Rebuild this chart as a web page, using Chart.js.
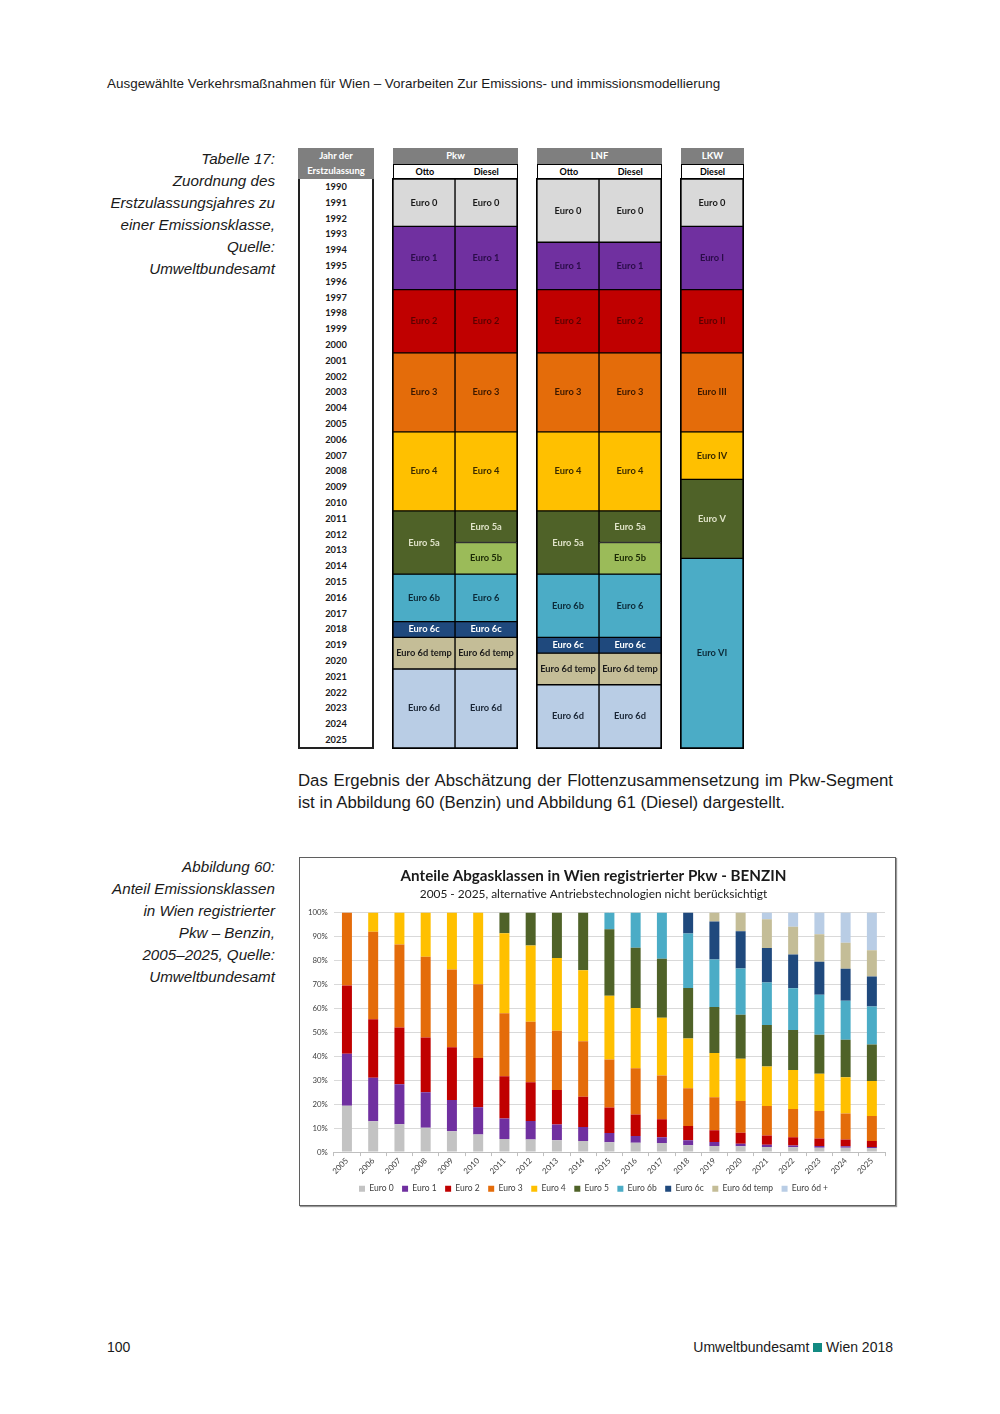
<!DOCTYPE html>
<html>
<head>
<meta charset="utf-8">
<script src="https://cdn.jsdelivr.net/npm/chart.js@4.4.1/dist/chart.umd.min.js"></script>
<style>
  body { margin: 0; background: #fff; font-family: "Liberation Sans", Arial, sans-serif; color: #1a1a1a; }
  #page { position: relative; width: 1000px; height: 1414px; overflow: hidden; }
  .abs { position: absolute; }
  .caption { font-style: italic; font-size: 15.2px; line-height: 22px; text-align: right; width: 200px; left: 75px; }
  .th { background: #7f7f7f; color: #fff; font: bold 9.5px Lato, sans-serif; text-align: center; }
  .sub { background: #fff; color: #000; font: bold 9px Lato, sans-serif; display: flex; border: 1px solid #000; border-bottom: none; box-sizing: border-box; }
  .sub div { flex: 1; text-align: center; line-height: 14px; }
  .grp { border: 1px solid #000; box-sizing: content-box; }
  #yearcol { left: 298px; top: 179px; width: 72px; height: 568px; border: 2px solid #222; border-top: none; font: bold 9.3px Lato, sans-serif; text-align: center; }
  #yearcol div { height: 15.8px; line-height: 15.8px; }
  .para { left: 298px; width: 595px; font-size: 16.8px; line-height: 22px; white-space: nowrap; }
</style>
</head>
<body>
<div id="page">
  <div class="abs" style="left:107px; top:76px; font-size:13.45px;">Ausgewählte Verkehrsmaßnahmen für Wien – Vorarbeiten Zur Emissions- und immissionsmodellierung</div>

  <div class="abs caption" style="top:148px;">Tabelle 17:<br>Zuordnung des<br>Erstzulassungsjahres zu<br>einer Emissionsklasse,<br>Quelle:<br>Umweltbundesamt</div>

  <!-- table headers -->
  <div class="abs th" style="left:298px; top:148px; width:76px; height:31px; line-height:15px;">Jahr der<br>Erstzulassung</div>
  <div id="yearcol" class="abs"></div>

  <div class="abs th" style="left:393px; top:148px; width:125px; height:16px; line-height:16px;">Pkw</div>
  <div class="abs sub" style="left:393px; top:164px; width:125px; height:15px;"><div>Otto</div><div>Diesel</div></div>
  <div class="abs grp" style="left:392px; top:178px; width:124px; height:569px;"><canvas id="pkw"></canvas></div>

  <div class="abs th" style="left:537px; top:148px; width:125px; height:16px; line-height:16px;">LNF</div>
  <div class="abs sub" style="left:537px; top:164px; width:125px; height:15px;"><div>Otto</div><div>Diesel</div></div>
  <div class="abs grp" style="left:536px; top:178px; width:124px; height:569px;"><canvas id="lnf"></canvas></div>

  <div class="abs th" style="left:681px; top:148px; width:63px; height:16px; line-height:16px;">LKW</div>
  <div class="abs sub" style="left:681px; top:164px; width:63px; height:15px;"><div>Diesel</div></div>
  <div class="abs grp" style="left:680px; top:178px; width:62px; height:569px;"><canvas id="lkw"></canvas></div>

  <div class="abs para" style="top:770px; text-align:justify; text-align-last:justify;">Das Ergebnis der Abschätzung der Flottenzusammensetzung im Pkw-Segment</div>
  <div class="abs para" style="top:792px;">ist in Abbildung 60 (Benzin) und Abbildung 61 (Diesel) dargestellt.</div>

  <div class="abs caption" style="top:856px;">Abbildung 60:<br>Anteil Emissionsklassen<br>in Wien registrierter<br>Pkw – Benzin,<br>2005–2025, Quelle:<br>Umweltbundesamt</div>

  <div class="abs" style="left:299px; top:857px; width:595px; height:347px; border:1px solid #5f5f5f; box-shadow:1px 1px 1px #999;">
    <canvas id="main"></canvas>
  </div>

  <div class="abs" style="left:107px; top:1339px; font-size:14px;">100</div>
  <div class="abs" style="right:107px; top:1339px; font-size:14px;">Umweltbundesamt <span style="display:inline-block; width:9px; height:9px; background:#138a82;"></span> Wien 2018</div>
</div>

<script>
// ---- Tabelle 17: Erstzulassungsjahr -> Emissionsklasse ----
const firstYear = 1990;
const lastYear = 2025;

const pkwOtto   = [['Euro 0',1990,1992],['Euro 1',1993,1996],['Euro 2',1997,2000],['Euro 3',2001,2005],['Euro 4',2006,2010],['Euro 5a',2011,2014],['Euro 6b',2015,2017],['Euro 6c',2018,2018],['Euro 6d temp',2019,2020],['Euro 6d',2021,2025]];
const pkwDiesel = [['Euro 0',1990,1992],['Euro 1',1993,1996],['Euro 2',1997,2000],['Euro 3',2001,2005],['Euro 4',2006,2010],['Euro 5a',2011,2012],['Euro 5b',2013,2014],['Euro 6',2015,2017],['Euro 6c',2018,2018],['Euro 6d temp',2019,2020],['Euro 6d',2021,2025]];
const lnfOtto   = [['Euro 0',1990,1993],['Euro 1',1994,1996],['Euro 2',1997,2000],['Euro 3',2001,2005],['Euro 4',2006,2010],['Euro 5a',2011,2014],['Euro 6b',2015,2018],['Euro 6c',2019,2019],['Euro 6d temp',2020,2021],['Euro 6d',2022,2025]];
const lnfDiesel = [['Euro 0',1990,1993],['Euro 1',1994,1996],['Euro 2',1997,2000],['Euro 3',2001,2005],['Euro 4',2006,2010],['Euro 5a',2011,2012],['Euro 5b',2013,2014],['Euro 6',2015,2018],['Euro 6c',2019,2019],['Euro 6d temp',2020,2021],['Euro 6d',2022,2025]];
const lkwDiesel = [['Euro 0',1990,1992],['Euro I',1993,1996],['Euro II',1997,2000],['Euro III',2001,2005],['Euro IV',2006,2008],['Euro V',2009,2013],['Euro VI',2014,2025]];

// fill / text colour per class
const cellColors = {
  'Euro 0': ['#d9d9d9', '#1a1a1a'],
  'Euro 1': ['#7030a0', '#2a0c48'], 'Euro I': ['#7030a0', '#2a0c48'],
  'Euro 2': ['#c00000', '#5c0000'], 'Euro II': ['#c00000', '#5c0000'],
  'Euro 3': ['#e46c0a', '#3a1800'], 'Euro III': ['#e46c0a', '#3a1800'],
  'Euro 4': ['#ffc000', '#3a2a00'], 'Euro IV': ['#ffc000', '#3a2a00'],
  'Euro 5a': ['#4f6228', '#dfe2c8'], 'Euro V': ['#4f6228', '#dfe2c8'],
  'Euro 5b': ['#9bbb59', '#1c2a05'],
  'Euro 6b': ['#4bacc6', '#0c2a38'], 'Euro 6': ['#4bacc6', '#0c2a38'], 'Euro VI': ['#4bacc6', '#0c2a38'],
  'Euro 6c': ['#1f497d', '#ffffff'],
  'Euro 6d temp': ['#c4bd97', '#1a1a1a'],
  'Euro 6d': ['#b9cde5', '#1a2636']
};

const yearCol = document.getElementById('yearcol');
for (let y = firstYear; y <= lastYear; y++) {
  const d = document.createElement('div');
  d.textContent = y;
  yearCol.appendChild(d);
}

// draw the class name in the middle of each block
const cellLabels = {
  id: 'cellLabels',
  afterDatasetsDraw(chart) {
    const ctx = chart.ctx;
    ctx.save();
    ctx.font = 'bold 9.3px Lato, sans-serif';
    ctx.textAlign = 'center';
    ctx.textBaseline = 'middle';
    chart.data.datasets.forEach((ds, i) => {
      chart.getDatasetMeta(i).data.forEach((el, j) => {
        if (ds.data[j] == null) return;
        ctx.fillStyle = cellColors[ds.label][1];
        ctx.fillText(ds.label, el.x, (el.y + el.base) / 2);
      });
    });
    ctx.restore();
  }
};

function makeTable(id, columns) {
  const datasets = [];
  columns.forEach((blocks, c) => {
    blocks.forEach(([cls, from, to]) => {
      datasets.push({
        label: cls,
        data: columns.map((_, k) => k === c ? [from - 0.5, to + 0.5] : null),
        backgroundColor: cellColors[cls][0],
        borderColor: '#000',
        borderWidth: 1,
        borderSkipped: false,
        grouped: false,
        categoryPercentage: 1,
        barPercentage: 1
      });
    });
  });
  new Chart(document.getElementById(id), {
    type: 'bar',
    data: { labels: columns.map((_, k) => 'c' + k), datasets },
    options: {
      responsive: true,
      maintainAspectRatio: false,
      animation: false,
      layout: { padding: 0 },
      scales: {
        x: { display: false },
        y: { display: false, reverse: true, min: firstYear - 0.5, max: lastYear + 0.5 }
      },
      plugins: { legend: { display: false }, tooltip: { enabled: false } }
    },
    plugins: [cellLabels]
  });
}

makeTable('pkw', [pkwOtto, pkwDiesel]);
makeTable('lnf', [lnfOtto, lnfDiesel]);
makeTable('lkw', [lkwDiesel]);

// ---- Abbildung 60: Anteile Abgasklassen, Pkw Benzin ----
const years = ['2005','2006','2007','2008','2009','2010','2011','2012','2013','2014','2015','2016','2017','2018','2019','2020','2021','2022','2023','2024','2025'];

const euro0   = [19.3, 12.9, 11.6, 10.2, 8.7, 7.3, 5.5, 5.3, 4.9, 4.6, 4.1, 3.9, 3.8, 2.9, 2.5, 2.4, 2.1, 2.0, 1.8, 1.8, 1.7];
const euro1   = [21.7, 18.1, 16.7, 14.8, 13.0, 11.4, 8.5, 7.7, 6.6, 5.9, 3.9, 2.8, 2.4, 2.0, 1.7, 1.1, 1.0, 0.8, 0.7, 0.6, 0.4];
const euro2   = [28.5, 24.5, 23.7, 22.8, 22.1, 20.6, 17.7, 16.2, 14.4, 12.6, 10.6, 9.0, 7.5, 6.0, 4.9, 4.6, 3.8, 3.4, 3.2, 2.9, 2.5];
const euro3   = [30.5, 36.5, 34.7, 33.7, 32.4, 30.8, 26.3, 25.2, 24.7, 23.2, 20.1, 19.3, 18.3, 15.7, 13.8, 13.2, 12.3, 11.8, 11.4, 10.8, 10.5];
const euro4   = [0, 8.0, 13.3, 18.5, 23.8, 29.9, 33.3, 31.8, 30.4, 29.6, 26.6, 25.1, 24.1, 20.8, 18.5, 17.7, 16.5, 16.3, 15.6, 15.1, 14.6];
const euro5   = [0, 0, 0, 0, 0, 0, 8.7, 13.8, 19.0, 24.1, 27.7, 25.2, 24.6, 21.1, 19.2, 18.3, 17.3, 16.7, 16.3, 15.7, 15.2];
const euro6b  = [0, 0, 0, 0, 0, 0, 0, 0, 0, 0, 7.0, 14.7, 19.3, 22.7, 19.8, 19.3, 17.8, 17.4, 16.7, 16.3, 15.9];
const euro6c  = [0, 0, 0, 0, 0, 0, 0, 0, 0, 0, 0, 0, 0, 8.8, 15.8, 15.6, 14.4, 14.1, 13.7, 13.3, 12.5];
const euro6dT = [0, 0, 0, 0, 0, 0, 0, 0, 0, 0, 0, 0, 0, 0, 3.8, 7.8, 12.0, 11.6, 11.5, 10.9, 10.9];
const euro6dP = [0, 0, 0, 0, 0, 0, 0, 0, 0, 0, 0, 0, 0, 0, 0, 0, 2.8, 5.9, 9.1, 12.6, 15.8];

const seriesNames  = ['Euro 0', 'Euro 1', 'Euro 2', 'Euro 3', 'Euro 4', 'Euro 5', 'Euro 6b', 'Euro 6c', 'Euro 6d temp', 'Euro 6d +'];
const seriesValues = [euro0, euro1, euro2, euro3, euro4, euro5, euro6b, euro6c, euro6dT, euro6dP];
const seriesColors = ['#c3c3c3', '#7030a0', '#c00000', '#e46c0a', '#ffc000', '#4f6228', '#4bacc6', '#1f497d', '#c4bd97', '#b9cde5'];

new Chart(document.getElementById('main'), {
  type: 'bar',
  data: {
    labels: years,
    datasets: seriesNames.map((name, i) => ({
      label: name,
      data: seriesValues[i],
      backgroundColor: seriesColors[i],
      categoryPercentage: 0.76,
      barPercentage: 0.5
    }))
  },
  options: {
    responsive: true,
    maintainAspectRatio: false,
    animation: false,
    layout: { padding: { left: 2, right: 10, top: 0, bottom: 2 } },
    scales: {
      x: {
        stacked: true,
        grid: { display: true, drawOnChartArea: false, tickLength: 4, color: '#bfbfbf' },
        border: { color: '#bfbfbf' },
        ticks: { maxRotation: 45, minRotation: 45, color: '#404040', font: { family: 'Lato', size: 8 }, padding: 0 }
      },
      y: {
        stacked: true,
        min: 0,
        max: 100,
        grid: { color: '#d9d9d9', drawTicks: false },
        border: { display: false },
        ticks: { stepSize: 10, padding: 6, color: '#404040', font: { family: 'Lato', size: 7.8 }, callback: v => v + '%' }
      }
    },
    plugins: {
      title: {
        display: true,
        text: 'Anteile Abgasklassen in Wien registrierter Pkw - BENZIN',
        color: '#1a1a1a',
        font: { family: 'Lato', size: 15.2, weight: 'bold' },
        padding: { top: 9, bottom: 2 }
      },
      subtitle: {
        display: true,
        text: '2005 - 2025, alternative Antriebstechnologien nicht berücksichtigt',
        color: '#1a1a1a',
        font: { family: 'Lato', size: 11.9 },
        padding: { bottom: 11 }
      },
      legend: {
        position: 'bottom',
        labels: { boxWidth: 6, boxHeight: 6, padding: 8.5, color: '#404040', font: { family: 'Lato', size: 8.5 } }
      },
      tooltip: { enabled: false }
    }
  }
});
</script>
</body>
</html>
